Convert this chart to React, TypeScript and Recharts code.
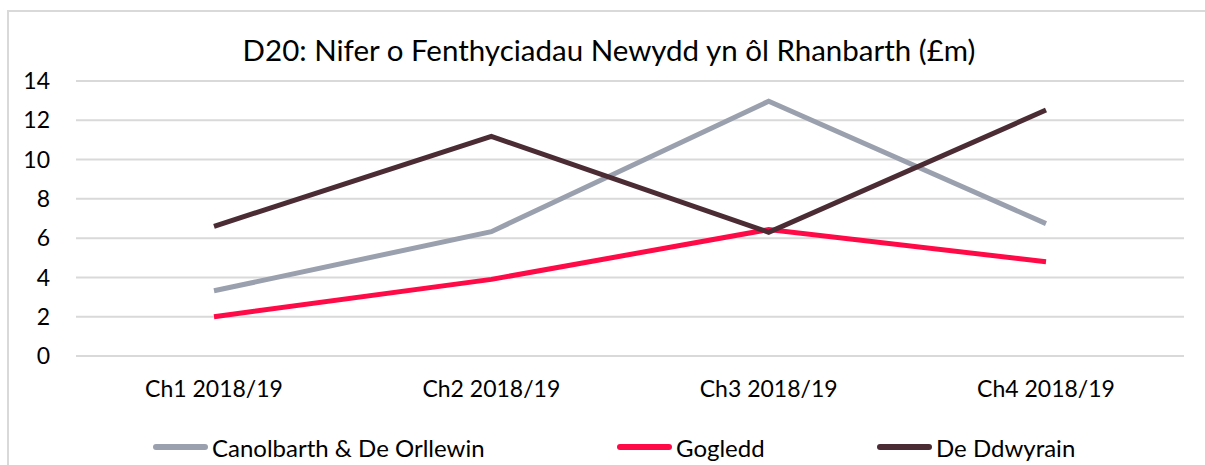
import React from 'react';
import { CartesianGrid, Legend, Line, LineChart, XAxis, YAxis } from 'recharts';

const quarters = ['Ch1 2018/19', 'Ch2 2018/19', 'Ch3 2018/19', 'Ch4 2018/19'];
const canolbarthDeOrllewin = [3.32, 6.33, 12.97, 6.74];
const gogledd = [2.0, 3.9, 6.44, 4.8];
const deDdwyrain = [6.6, 11.18, 6.3, 12.52];
const yTicks = [0, 2, 4, 6, 8, 10, 12, 14];

const seriesInfo = [
  { key: 'canolbarth', name: 'Canolbarth & De Orllewin', color: '#9aa0ad', left: 153 },
  { key: 'gogledd', name: 'Gogledd', color: '#ff0a47', left: 617 },
  { key: 'deDdwyrain', name: 'De Ddwyrain', color: '#4b2c35', left: 877 },
];

const data = quarters.map((q, i) => ({
  quarter: q,
  canolbarth: canolbarthDeOrllewin[i],
  gogledd: gogledd[i],
  deDdwyrain: deDdwyrain[i],
}));

const font = 'Lato, "Open Sans", sans-serif';

const LegendBox: React.FC = () => (
  <div style={{ position: 'relative', height: 30, width: 1205 }}>
    {seriesInfo.map((s) => (
      <div key={s.key} style={{ position: 'absolute', left: s.left, top: 0, display: 'flex', alignItems: 'center', height: 30 }}>
        <div style={{ width: 55, height: 6, borderRadius: 3, background: s.color, marginRight: 4 }} />
        <span style={{ fontFamily: font, fontSize: 24, color: '#000' }}>{s.name}</span>
      </div>
    ))}
  </div>
);

export default function App() {
  return (
    <div style={{ position: 'absolute', left: 0, top: 0, width: 1205, height: 465, overflow: 'hidden', background: '#fff' }}>
      <div style={{ position: 'absolute', left: 7, top: 10, width: 1220, height: 480, border: '2px solid #d9d9d9' }} />
      <div style={{ position: 'absolute', left: 0, top: 32, width: 1218, textAlign: 'center', fontFamily: font, fontSize: 29.5, color: '#000' }}>
        D20: Nifer o Fenthyciadau Newydd yn ôl Rhanbarth (£m)
      </div>
      <div style={{ position: 'absolute', left: 0, top: 0 }}>
        <LineChart width={1205} height={465} data={data} margin={{ top: 81, right: 21, bottom: 49, left: 0 }}>
          <CartesianGrid vertical={false} stroke="#d9d9d9" strokeWidth={2} />
          <XAxis
            dataKey="quarter"
            axisLine={false}
            tickLine={false}
            tickSize={0}
            tickMargin={25}
            height={30}
            padding={{ left: 138, right: 138 }}
            tick={{ fill: '#000', fontSize: 23, fontFamily: font }}
          />
          <YAxis
            domain={[0, 14]}
            ticks={yTicks}
            axisLine={false}
            tickLine={false}
            tickSize={0}
            tickMargin={26}
            width={76}
            tick={{ fill: '#000', fontSize: 23, fontFamily: font }}
          />
          <Legend
            verticalAlign="bottom"
            wrapperStyle={{ left: 0, top: 432, width: 1205 }}
            content={() => <LegendBox />}
          />
          {seriesInfo.map((s) => (
            <Line
              key={s.key}
              type="linear"
              dataKey={s.key}
              name={s.name}
              stroke={s.color}
              strokeWidth={5}
              dot={false}
              activeDot={false}
              isAnimationActive={false}
            />
          ))}
        </LineChart>
      </div>
    </div>
  );
}
